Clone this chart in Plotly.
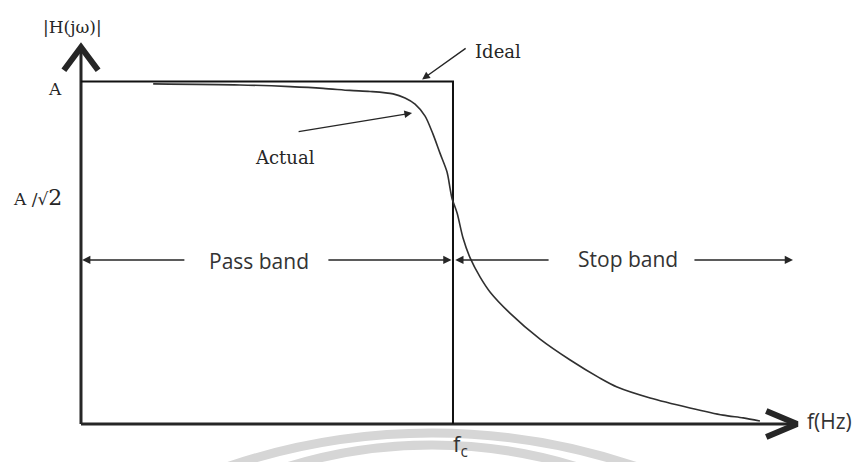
import plotly.graph_objects as go

actual_f = [0.194, 0.427, 0.562, 0.651, 0.723, 0.777, 0.839, 0.871, 0.898, 0.925,
            0.946, 0.965, 0.984, 0.992, 0.997, 1.011, 1.027, 1.046, 1.073, 1.100,
            1.153, 1.234, 1.315, 1.395, 1.441, 1.530, 1.637, 1.726, 1.780, 1.825]
actual_mag = [0.993, 0.990, 0.985, 0.980, 0.974, 0.971, 0.964, 0.952, 0.934, 0.899,
              0.847, 0.791, 0.736, 0.689, 0.660, 0.616, 0.543, 0.485, 0.429, 0.385,
              0.324, 0.248, 0.187, 0.134, 0.108, 0.076, 0.047, 0.026, 0.018, 0.009]
ideal_f = [0.0, 1.0, 1.0]
ideal_mag = [1.0, 1.0, 0.0]

axis_f_end = 1.925
axis_mag_end = 1.10
band_level = 0.479

y_labels = ["A", "A /√<span style='font-size:22px'>2</span>"]
y_label_x = [-0.07, -0.116]
y_label_pos = [0.978, 0.66]

INK = "#262626"
SERIF = "DejaVu Serif"
SANS = "Open Sans"

fig = go.Figure()

# axes
fig.add_trace(go.Scatter(x=[0, axis_f_end], y=[0, 0], mode="lines",
                         line=dict(color=INK, width=3), hoverinfo="skip"))
fig.add_trace(go.Scatter(x=[0, 0], y=[0, axis_mag_end], mode="lines",
                         line=dict(color=INK, width=3), hoverinfo="skip"))
# chevron heads
fig.add_trace(go.Scatter(x=[axis_f_end - 0.083, axis_f_end, axis_f_end - 0.083],
                         y=[0.038, 0, -0.038], mode="lines",
                         line=dict(color=INK, width=6), hoverinfo="skip"))
fig.add_trace(go.Scatter(x=[-0.046, 0, 0.046],
                         y=[axis_mag_end - 0.067, axis_mag_end, axis_mag_end - 0.067],
                         mode="lines", line=dict(color=INK, width=6), hoverinfo="skip"))

# ideal response
fig.add_trace(go.Scatter(x=ideal_f, y=ideal_mag, mode="lines",
                         line=dict(color="#111111", width=2), hoverinfo="skip"))
# actual response
fig.add_trace(go.Scatter(x=actual_f, y=actual_mag, mode="lines",
                         line=dict(color="#303030", width=1.6, shape="spline", smoothing=0.8),
                         hoverinfo="skip"))

ann = []

def arrow(x, y, ax, ay, w=1.5):
    ann.append(dict(x=x, y=y, ax=ax, ay=ay, xref="x", yref="y", axref="x", ayref="y",
                    showarrow=True, arrowhead=2, arrowsize=1.1, arrowwidth=w,
                    arrowcolor=INK, text=" ", font=dict(size=1)))

# band arrows
arrow(0.003, band_level, 0.282, band_level)
arrow(0.996, band_level, 0.661, band_level)
arrow(1.006, band_level, 1.261, band_level)
arrow(1.914, band_level, 1.645, band_level)
# label arrows
arrow(0.917, 1.006, 1.038, 1.10, 1.4)
arrow(0.890, 0.908, 0.581, 0.853, 1.4)

def text(x, y, t, size, font, color=INK):
    ann.append(dict(x=x, y=y, xref="x", yref="y", text=t, showarrow=False,
                    font=dict(family=font, size=size, color=color)))

text(-0.024, 1.159, "|H(jω)|", 17, SERIF)
for lab, lx, pos in zip(y_labels, y_label_x, y_label_pos):
    text(lx, pos, lab, 17, SERIF)
text(1.122, 1.088, "Ideal", 18, SERIF)
text(0.548, 0.777, "Actual", 18, SERIF)
text(0.479, 0.476, "Pass band", 21, SANS, "#333333")
text(1.470, 0.482, "Stop band", 21, SANS, "#333333")
text(2.011, 0.009, "f(Hz)", 21, SANS, "#333333")
text(1.019, -0.062, "f<sub>c</sub>", 22, SANS, "#333333")

# faint watermark arcs (decoration, pixel/paper based)
shapes = []
for cx, cy, r in [(432, 1070, 637), (432, 935, 490)]:
    shapes.append(dict(type="circle", xref="paper", yref="paper", layer="below",
                       x0=(cx - r) / 858, x1=(cx + r) / 858,
                       y0=1 - (cy + r) / 462, y1=1 - (cy - r) / 462,
                       line=dict(color="#d6d6d6", width=9)))

fig.update_layout(
    width=858, height=462, autosize=False,
    margin=dict(l=0, r=0, t=0, b=0),
    paper_bgcolor="white", plot_bgcolor="rgba(0,0,0,0)",
    showlegend=False,
    xaxis=dict(range=[-0.2177, 2.0887], visible=False, fixedrange=True),
    yaxis=dict(range=[-0.1109, 1.2380], visible=False, fixedrange=True),
    annotations=ann, shapes=shapes,
)

fig.write_html("out.html", post_script="document.body.style.margin='0';",
               config={"displayModeBar": False})
